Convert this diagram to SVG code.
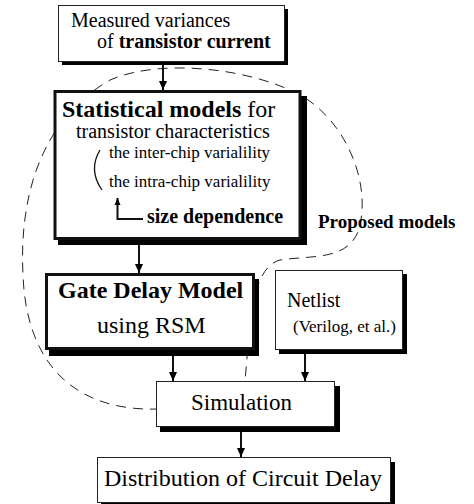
<svg xmlns="http://www.w3.org/2000/svg" width="474" height="504" viewBox="0 0 474 504">
<style>
text{font-family:"Liberation Serif","Times New Roman",serif;fill:#000}
.b{font-weight:bold}
.box{fill:#fff;stroke:#222;stroke-width:1}
.thick{fill:#fff;stroke:#111;stroke-width:3}
.sh{fill:#000}
.conn line{stroke:#111;stroke-width:2}
.loop{fill:none;stroke:#222;stroke-width:1;stroke-dasharray:10 7}
</style>
<defs>
<marker id="ah" markerUnits="userSpaceOnUse" markerWidth="10" markerHeight="10" viewBox="0 0 10 10" refX="9" refY="5" orient="auto">
<path d="M0,1 L9,5 L0,9 Z" fill="#000"/>
</marker>
<marker id="ahs" markerUnits="userSpaceOnUse" markerWidth="8" markerHeight="8" viewBox="0 0 8 8" refX="7" refY="4" orient="auto">
<path d="M0,1 L7,4 L0,7 Z" fill="#000"/>
</marker>
</defs>
<rect width="474" height="504" fill="#fff"/>
<path id="proposed-loop" class="loop" d="M160,409 C80,412 32,370 24,290 C16,200 40,120 110,80 C160,58 250,68 300,95 C345,120 370,180 360,225 C352,262 310,255 280,260 C250,268 250,330 245,381"/>
<text class="b" x="318" y="228" font-size="19">Proposed models</text>
<g id="measured">
<rect class="sh" x="62" y="9" width="226" height="56"/>
<rect class="box" x="58.5" y="5.5" width="226" height="56"/>
<text x="71" y="27" font-size="20">Measured variances</text>
<text x="97" y="48" font-size="20">of <tspan class="b">transistor current</tspan></text>
</g>
<g id="statistical">
<rect class="sh" x="58" y="96" width="249" height="149"/>
<rect class="thick" x="55" y="91.5" width="245" height="147"/>
<text x="62" y="117" font-size="24"><tspan class="b">Statistical models</tspan> for</text>
<text x="76" y="138" font-size="20">transistor characteristics</text>
<path d="M100,150 Q88,170 102,190" fill="none" stroke="#111" stroke-width="1.3"/>
<text x="109" y="158" font-size="17">the inter-chip varialility</text>
<text x="109" y="187" font-size="17">the intra-chip varialility</text>
<polyline points="143,219 117.5,219 117.5,198" fill="none" stroke="#111" stroke-width="2" marker-end="url(#ahs)"/>
<text class="b" x="147" y="223" font-size="20">size dependence</text>
</g>
<g id="gate">
<rect class="sh" x="49" y="279" width="210" height="77"/>
<rect class="thick" x="46.5" y="274.5" width="207" height="74"/>
<text class="b" x="58" y="298" font-size="24">Gate Delay Model</text>
<text x="97" y="333" font-size="24">using RSM</text>
</g>
<g id="netlist">
<rect class="sh" x="279" y="274" width="128" height="80"/>
<rect class="box" x="275.5" y="270.5" width="127" height="79"/>
<text x="287" y="307" font-size="20">Netlist</text>
<text x="293" y="332" font-size="17">(Verilog, et al.)</text>
</g>
<g id="simulation">
<rect class="sh" x="160" y="386" width="180" height="46"/>
<rect class="box" x="156.5" y="381.5" width="178" height="45"/>
<text x="191" y="410" font-size="23">Simulation</text>
</g>
<g id="distribution">
<rect class="sh" x="101" y="462" width="294" height="42"/>
<rect class="box" x="97.5" y="457.5" width="293" height="45"/>
<text x="104" y="486" font-size="24">Distribution of Circuit Delay</text>
</g>
<g class="conn" id="connectors">
<line x1="163" y1="65" x2="163" y2="90" marker-end="url(#ah)"/>
<line x1="139" y1="245" x2="139" y2="273" marker-end="url(#ah)"/>
<line x1="173" y1="356" x2="173" y2="381" marker-end="url(#ah)"/>
<line x1="305" y1="354" x2="305" y2="381" marker-end="url(#ah)"/>
<line x1="241" y1="432" x2="241" y2="457" marker-end="url(#ah)"/>
</g>
</svg>
